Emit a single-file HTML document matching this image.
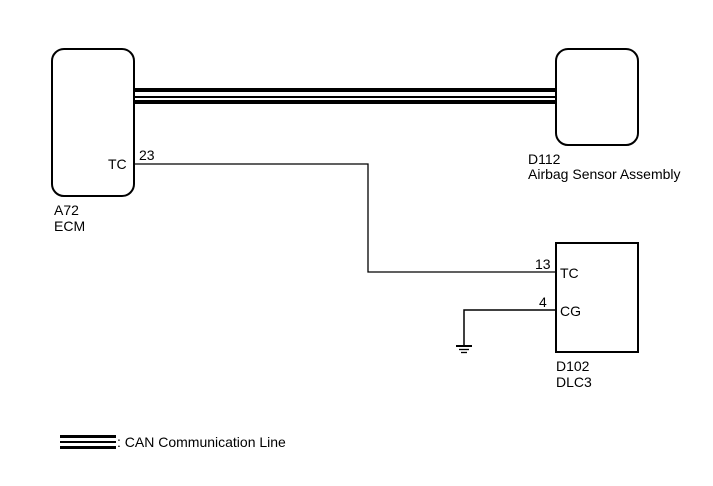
<!DOCTYPE html>
<html><head><style>
body{margin:0;background:#fff;}
svg text{font-family:"Liberation Sans",sans-serif;font-size:14px;fill:#000;}
</style></head><body>
<svg width="713" height="481" viewBox="0 0 713 481" xmlns="http://www.w3.org/2000/svg">
<rect x="52" y="49" width="82" height="147" rx="12" fill="none" stroke="#000" stroke-width="2"/>
<rect x="556" y="49" width="82" height="96" rx="12" fill="none" stroke="#000" stroke-width="2"/>
<rect x="134" y="88" width="422" height="4" fill="#000"/>
<rect x="134" y="96" width="422" height="2" fill="#000"/>
<rect x="134" y="100" width="422" height="4" fill="#000"/>
<polyline points="134,164 368,164 368,272 556,272" fill="none" stroke="#000" stroke-width="1.3"/>
<rect x="556" y="243" width="82" height="109" fill="none" stroke="#000" stroke-width="2"/>
<polyline points="556,310 464,310 464,346" fill="none" stroke="#000" stroke-width="1.5"/>
<line x1="456" y1="346" x2="472" y2="346" stroke="#000" stroke-width="2"/>
<line x1="459" y1="349.5" x2="469" y2="349.5" stroke="#000" stroke-width="1.3"/>
<line x1="461" y1="352.5" x2="467" y2="352.5" stroke="#000" stroke-width="1.3"/>
<text x="108" y="169">TC</text>
<text x="139" y="160">23</text>
<text x="54" y="215">A72</text>
<text x="54" y="231">ECM</text>
<text x="528" y="164">D112</text>
<text x="528" y="179">Airbag Sensor Assembly</text>
<text x="535" y="269">13</text>
<text x="560" y="278">TC</text>
<text x="539" y="307">4</text>
<text x="560" y="316">CG</text>
<text x="556" y="371">D102</text>
<text x="556" y="387">DLC3</text>
<rect x="60" y="435" width="56" height="3" fill="#000"/>
<rect x="60" y="441" width="56" height="2" fill="#000"/>
<rect x="60" y="446" width="56" height="3" fill="#000"/>
<text x="117" y="447">: CAN Communication Line</text>
</svg>
</body></html>
